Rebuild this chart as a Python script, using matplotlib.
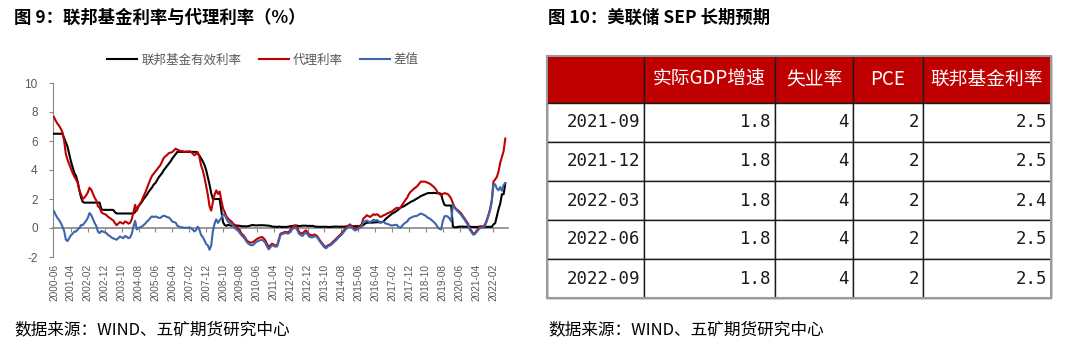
import numpy as np
import pandas as pd
import matplotlib
matplotlib.use('Agg')
import matplotlib.pyplot as plt
from matplotlib.patches import Rectangle

plt.rcParams['font.family'] = ['Noto Sans CJK SC', 'DejaVu Sans']
plt.rcParams['axes.unicode_minus'] = False

# monthly data, 2000-06 .. 2022-09
start_month = '2000-06'

# 联邦基金有效利率
effr = [
    6.5, 6.5, 6.5, 6.5, 6.5, 6.5, 6.2,  # 2000
    5.9, 5.6, 5.1, 4.6, 4.2, 3.8, 3.6, 3.2, 2.6, 2.1, 1.8, 1.75,
    1.75, 1.75, 1.75, 1.75, 1.75, 1.75, 1.75, 1.75, 1.75, 1.3, 1.25, 1.25,
    1.25, 1.25, 1.25, 1.25, 1.25, 1.1, 1.0, 1.0, 1.0, 1.0, 1.0, 1.0,
    1.0, 1.0, 1.0, 1.0, 1.0, 1.1, 1.3, 1.5, 1.65, 1.8, 2.0, 2.15,
    2.3, 2.5, 2.65, 2.8, 3.0, 3.1, 3.3, 3.5, 3.65, 3.8, 4.0, 4.15,  # 2005
    4.3, 4.45, 4.6, 4.8, 4.95, 5.1, 5.25, 5.25, 5.25, 5.25, 5.25, 5.25,
    5.25, 5.25, 5.25, 5.25, 5.25, 5.25, 5.15, 5.0, 4.8, 4.6, 4.35, 4.0,
    3.5, 3.0, 2.4, 2.0, 2.0, 2.0, 2.0, 2.0, 1.2, 0.4, 0.2, 0.15,
    0.22, 0.18, 0.15, 0.18, 0.21, 0.16, 0.16, 0.15, 0.12, 0.12, 0.12, 0.11,
    0.13, 0.16, 0.2, 0.2, 0.18, 0.18, 0.19, 0.19, 0.19, 0.19, 0.18, 0.17,  # 2010
    0.16, 0.14, 0.1, 0.09, 0.09, 0.07, 0.1, 0.08, 0.07, 0.08, 0.07, 0.08,
    0.1, 0.13, 0.14, 0.16, 0.16, 0.16, 0.13, 0.14, 0.16, 0.16, 0.16, 0.14,
    0.15, 0.14, 0.15, 0.11, 0.09, 0.09, 0.08, 0.08, 0.09, 0.08, 0.09, 0.07,
    0.07, 0.08, 0.09, 0.09, 0.1, 0.09, 0.09, 0.09, 0.09, 0.09, 0.12, 0.11,
    0.11, 0.11, 0.12, 0.12, 0.13, 0.13, 0.14, 0.14, 0.2, 0.3, 0.36, 0.37,  # 2015
    0.37, 0.37, 0.38, 0.39, 0.4, 0.4, 0.4, 0.41, 0.45, 0.6, 0.7, 0.8,
    0.9, 0.99, 1.05, 1.12, 1.2, 1.3, 1.4, 1.45, 1.5, 1.58, 1.65, 1.72,
    1.8, 1.85, 1.91, 1.98, 2.05, 2.12, 2.2, 2.25, 2.3, 2.35, 2.4, 2.41,
    2.41, 2.41, 2.42, 2.4, 2.4, 2.4, 2.35, 1.9, 1.6, 1.55, 1.55, 1.55,
    1.55, 0.1, 0.05, 0.05, 0.08, 0.09, 0.1, 0.09, 0.09, 0.09, 0.09, 0.09,  # 2020
    0.08, 0.07, 0.07, 0.06, 0.08, 0.1, 0.09, 0.08, 0.08, 0.08, 0.08, 0.08,
    0.08, 0.25, 0.33, 0.8, 1.3, 1.68, 2.33, 2.33, 3.08,
]

# 代理利率
proxy = [
    7.65, 7.4, 7.2, 7.05, 6.85, 6.6, 6.0,  # 2000
    5.1, 4.7, 4.4, 4.1, 3.8, 3.55, 3.35, 3.1, 2.6, 2.3, 2.0, 2.1,
    2.25, 2.45, 2.78, 2.65, 2.37, 2.1, 1.9, 1.5, 1.4, 1.1, 1.0, 0.95,
    0.9, 0.76, 0.7, 0.6, 0.53, 0.35, 0.19, 0.3, 0.41, 0.35, 0.3, 0.45,
    0.4, 0.3, 0.35, 0.6, 1.1, 1.6, 1.2, 1.5, 1.7, 1.9, 2.2, 2.45,
    2.75, 3.05, 3.35, 3.6, 3.75, 3.9, 4.05, 4.2, 4.35, 4.6, 4.85, 4.95,  # 2005
    5.05, 5.17, 5.2, 5.24, 5.35, 5.47, 5.4, 5.35, 5.3, 5.3, 5.25, 5.28,
    5.25, 5.3, 5.24, 5.15, 5.01, 5.1, 5.24, 4.9, 4.32, 3.98, 3.5, 2.9,
    2.3, 1.5, 1.2, 1.79, 2.3, 2.6, 2.35, 2.52, 1.9, 1.35, 1.1, 0.8,
    0.65, 0.53, 0.45, 0.3, 0.2, 0.05, -0.04, -0.2, -0.39, -0.5, -0.65, -0.85,
    -0.95, -1.0, -1.0, -0.95, -0.85, -0.76, -0.7, -0.65, -0.62, -0.7, -0.85, -1.1,  # 2010
    -1.31, -1.2, -1.08, -1.15, -1.2, -1.2, -0.8, -0.39, -0.35, -0.3, -0.27, -0.3,
    -0.27, -0.1, 0.07, 0.15, 0.18, 0.0, -0.27, -0.35, -0.39, -0.25, -0.16, -0.3,
    -0.45, -0.5, -0.5, -0.45, -0.5, -0.6, -0.8, -0.96, -1.1, -1.25, -1.31, -1.2,
    -1.15, -1.08, -0.95, -0.85, -0.73, -0.6, -0.5, -0.39, -0.25, -0.1, 0.07, 0.15,
    0.25, 0.15, 0.05, -0.05, 0.0, 0.07, 0.15, 0.25, 0.65, 0.75, 0.88, 0.82,  # 2015
    0.76, 0.85, 0.95, 0.9, 0.95, 0.88, 0.76, 0.8, 0.88, 0.92, 0.99, 1.05,
    1.1, 1.15, 1.25, 1.34, 1.4, 1.35, 1.42, 1.6, 1.79, 1.95, 2.1, 2.35,
    2.5, 2.6, 2.72, 2.8, 2.9, 3.05, 3.2, 3.2, 3.2, 3.18, 3.12, 3.08,
    3.0, 2.9, 2.8, 2.65, 2.45, 2.35, 2.25, 2.35, 2.4, 2.38, 2.33, 2.2,
    2.02, 1.7, 1.45, 1.3, 1.22, 1.1, 0.99, 0.8, 0.65, 0.45, 0.3, -0.04,  # 2020
    -0.2, -0.39, -0.35, -0.2, -0.05, 0.1, 0.1, 0.1, 0.25, 0.53, 0.9, 1.3,
    1.9, 3.2, 3.35, 3.52, 3.9, 4.5, 4.9, 5.3, 6.17,
]

# 差值
spread = [
    1.15, 0.9, 0.7, 0.55, 0.35, 0.1, -0.2,  # 2000
    -0.8, -0.9, -0.7, -0.5, -0.4, -0.25, -0.25, -0.1, 0.0, 0.2, 0.2, 0.35,
    0.5, 0.7, 1.03, 0.9, 0.62, 0.35, 0.15, -0.25, -0.35, -0.2, -0.25, -0.3,
    -0.35, -0.49, -0.55, -0.65, -0.72, -0.75, -0.81, -0.7, -0.59, -0.65, -0.7, -0.55,
    -0.6, -0.7, -0.65, -0.4, 0.1, 0.5, -0.1, 0.0, 0.05, 0.1, 0.2, 0.3,
    0.45, 0.55, 0.7, 0.8, 0.75, 0.8, 0.75, 0.7, 0.7, 0.8, 0.85, 0.8,  # 2005
    0.75, 0.72, 0.6, 0.44, 0.4, 0.37, 0.15, 0.1, 0.05, 0.05, 0.0, 0.03,
    0.0, 0.05, -0.01, -0.1, -0.24, -0.15, 0.09, -0.1, -0.48, -0.62, -0.85, -1.1,
    -1.2, -1.5, -1.2, -0.21, 0.3, 0.6, 0.35, 0.52, 0.7, 0.95, 0.9, 0.65,
    0.43, 0.35, 0.3, 0.12, -0.01, -0.11, -0.2, -0.35, -0.51, -0.62, -0.77, -0.96,
    -1.08, -1.16, -1.2, -1.15, -1.03, -0.94, -0.89, -0.84, -0.81, -0.89, -1.03, -1.27,  # 2010
    -1.47, -1.34, -1.18, -1.24, -1.29, -1.27, -0.9, -0.47, -0.42, -0.38, -0.34, -0.38,
    -0.37, -0.23, -0.07, -0.01, 0.02, -0.16, -0.4, -0.49, -0.55, -0.41, -0.32, -0.44,
    -0.6, -0.64, -0.65, -0.56, -0.59, -0.69, -0.88, -1.04, -1.19, -1.33, -1.4, -1.27,
    -1.22, -1.16, -1.04, -0.94, -0.83, -0.69, -0.59, -0.48, -0.34, -0.19, -0.05, 0.04,
    0.14, 0.04, -0.07, -0.17, -0.13, -0.06, 0.01, 0.11, 0.45, 0.45, 0.52, 0.45,  # 2015
    0.39, 0.48, 0.57, 0.51, 0.55, 0.48, 0.36, 0.39, 0.43, 0.32, 0.29, 0.25,
    0.2, 0.16, 0.2, 0.22, 0.2, 0.05, 0.02, 0.15, 0.29, 0.37, 0.45, 0.63,
    0.7, 0.75, 0.81, 0.82, 0.85, 0.93, 1.0, 0.95, 0.9, 0.83, 0.72, 0.67,
    0.59, 0.49, 0.38, 0.25, 0.05, -0.05, -0.1, 0.45, 0.8, 0.83, 0.78, 0.65,
    0.47, 1.6, 1.4, 1.25, 1.14, 1.01, 0.89, 0.71, 0.56, 0.36, 0.21, -0.13,  # 2020
    -0.28, -0.46, -0.42, -0.26, -0.13, 0.0, 0.01, 0.02, 0.17, 0.45, 0.82, 1.22,
    1.82, 2.95, 3.02, 2.72, 2.6, 2.82, 2.57, 2.97, 3.09,
]

tick_labels = ['2000-06', '2001-04', '2002-02', '2002-12', '2003-10', '2004-08',
               '2005-06', '2006-04', '2007-02', '2007-12', '2008-10', '2009-08',
               '2010-06', '2011-04', '2012-02', '2012-12', '2013-10', '2014-08',
               '2015-06', '2016-04', '2017-02', '2017-12', '2018-10', '2019-08',
               '2020-06', '2021-04', '2022-02']

# SEP table
sep_dates = ['2021-09', '2021-12', '2022-03', '2022-06', '2022-09']
sep_gdp = [1.8, 1.8, 1.8, 1.8, 1.8]
sep_unemp = [4, 4, 4, 4, 4]
sep_pce = [2, 2, 2, 2, 2]
sep_ffr = [2.5, 2.5, 2.4, 2.5, 2.5]
col_labels = ['', '实际GDP增速', '失业率', 'PCE', '联邦基金利率']

AX_GRAY = '#868686'
TXT_GRAY = '#595959'
W, H = 1080, 348

fig = plt.figure(figsize=(W / 100, H / 100), dpi=100)

# ---- left chart
months = pd.period_range(start_month, periods=len(effr), freq='M').strftime('%Y-%m').tolist()
x = np.arange(len(months))

ax = fig.add_axes([53 / W, 1 - 257 / H, 455 / W, 174 / H])
ax.plot(x, effr, color='black', lw=1.5, label='联邦基金有效利率', zorder=3)
ax.plot(x, proxy, color='#c00000', lw=1.5, label='代理利率', zorder=4)
ax.plot(x, spread, color='#3d64ad', lw=1.5, label='差值', zorder=5)
ax.set_ylim(-2, 10)
ax.set_xlim(-0.6, len(months) + 0.6)
ax.set_yticks(range(-2, 11, 2))
for s in ['top', 'right', 'bottom']:
    ax.spines[s].set_visible(False)
ax.spines['left'].set_color(AX_GRAY)
ax.tick_params(axis='y', direction='out', length=3, color=AX_GRAY,
               labelsize=8.5, labelcolor=TXT_GRAY, pad=8)
ax.set_xticks([months.index(t) for t in tick_labels])
ax.set_xticklabels(tick_labels, rotation=90)
ax.tick_params(axis='x', length=0, labelsize=7.2, labelcolor=TXT_GRAY, pad=5)
for lbl in ax.get_xticklabels() + ax.get_yticklabels():
    lbl.set_fontfamily('Liberation Sans')

# zero line with small ticks
zero = ax.secondary_xaxis(1 / 6)
zero.set_xticks(np.arange(10, len(months), 10))
zero.tick_params(direction='out', length=3, color=AX_GRAY, labelbottom=False, labeltop=False)
zero.spines['bottom'].set_color(AX_GRAY)
zero.spines['bottom'].set_linewidth(1.2)

handles, labels = ax.get_legend_handles_labels()
fig.legend(handles, labels, loc='center', bbox_to_anchor=(263 / W, 1 - 60 / H), ncol=3,
           frameon=False, fontsize=9, handlelength=2.4, handletextpad=0.3,
           columnspacing=1.4, labelcolor=TXT_GRAY)

fig.text(14 / W, 1 - 18 / H, '图 9：联邦基金利率与代理利率（%）', fontsize=12.5,
         fontweight='bold', ha='left', va='center')
fig.text(14 / W, 1 - 330 / H, '数据来源：WIND、五矿期货研究中心', fontsize=12,
         ha='left', va='center')

# ---- right table
fig.text(548 / W, 1 - 18 / H, '图 10：美联储 SEP 长期预期', fontsize=12.5,
         fontweight='bold', ha='left', va='center')
fig.text(548 / W, 1 - 330 / H, '数据来源：WIND、五矿期货研究中心', fontsize=12,
         ha='left', va='center')

col_px = [97, 131, 78, 70, 128]
tab_ax = fig.add_axes([547 / W, 1 - 298 / H, 504 / W, 242 / H])
tab_ax.axis('off')
cell_text = [[d, f'{g}', f'{u}', f'{p}', f'{f}']
             for d, g, u, p, f in zip(sep_dates, sep_gdp, sep_unemp, sep_pce, sep_ffr)]
tbl = tab_ax.table(cellText=cell_text, colLabels=col_labels,
                   colWidths=[w / sum(col_px) for w in col_px],
                   cellLoc='right', colLoc='center', bbox=[0, 0, 1, 1])
tbl.auto_set_font_size(False)
for (r, c), cell in tbl.get_celld().items():
    cell.set_edgecolor('#1a1a1a')
    cell.set_linewidth(1)
    t = cell.get_text()
    if r == 0:
        cell.set_height(47)
        cell.set_facecolor('#c00000')
        t.set_color('white')
        t.set_fontsize(13.5)
    else:
        cell.set_height(39)
        cell.set_facecolor('white')
        cell.PAD = 4 / col_px[c]
        t.set_fontsize(12.5)
        t.set_fontfamily('DejaVu Sans Mono')
        t.set_color('#1a1a1a')
tab_ax.add_patch(Rectangle((0, 0), 1, 1, transform=tab_ax.transAxes, fill=False,
                           edgecolor='#9a9a9a', lw=1.5, clip_on=False, zorder=5))

fig.savefig('out.png', dpi=100)
